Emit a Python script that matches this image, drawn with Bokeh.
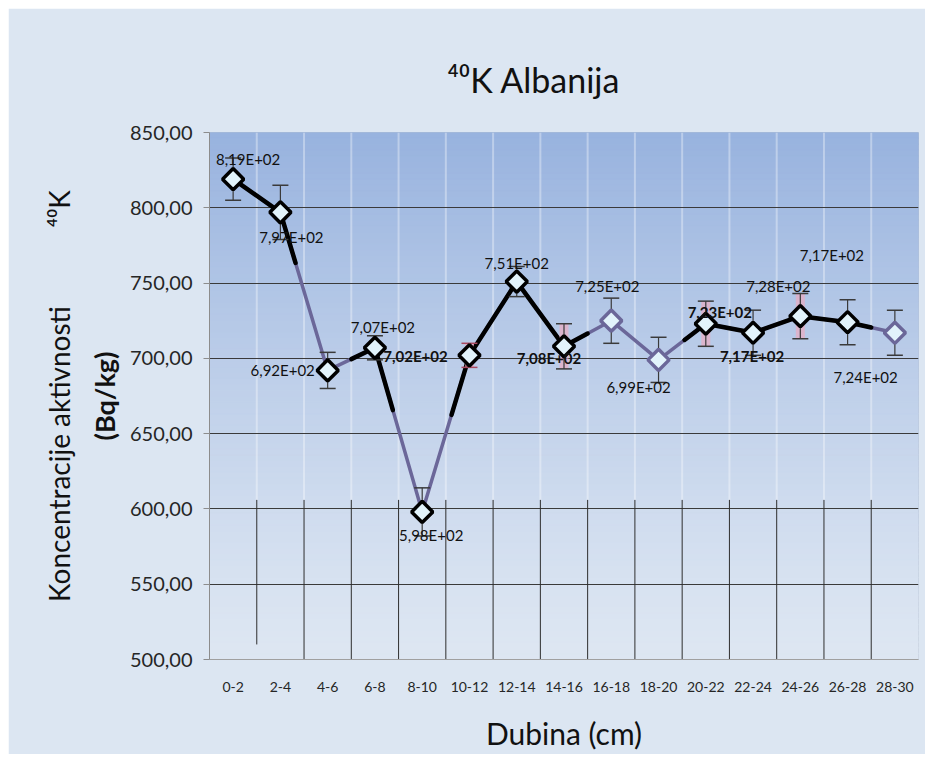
import numpy as np
from bokeh.plotting import figure
from bokeh.models import ColumnDataSource, Range1d, FixedTicker, LinearAxis
from bokeh.core.properties import value
from bokeh.embed import file_html
from bokeh.resources import INLINE

# ---------------- data ----------------
depths = ["0-2", "2-4", "4-6", "6-8", "8-10", "10-12", "12-14", "14-16",
          "16-18", "18-20", "20-22", "22-24", "24-26", "26-28", "28-30"]
activity = [819, 797, 692, 707, 598, 702, 751, 708, 725, 699, 723, 717, 728, 724, 717]
uncertainty = [14, 18, 12, 8, 16, 8, 10, 15, 15, 15, 15, 15, 15, 15, 15]
value_labels = ["8,19E+02", "7,97E+02", "6,92E+02", "7,07E+02", "5,98E+02",
                "7,02E+02", "7,51E+02", "7,08E+02", "7,25E+02", "6,99E+02",
                "7,23E+02", "7,17E+02", "7,28E+02", "7,24E+02", "7,17E+02"]
y_ticks = [500, 550, 600, 650, 700, 750, 800, 850]
title_text = "\u2074\u2070K Albanija"
y_label_outer = "Koncentracije aktivnosti " + "\u00a0" * 10 + "\u2074\u2070K"
y_label_inner = "(Bq/kg)"
x_label = "Dubina (cm)"

# ---------------- styling ----------------
label_dx = [15, 11, -45, 8, 9, -54, 0, -15, -4, -20, 14, -1, -22, 18, -63]
label_dy = [-20, 25, 0, -21, 23, 1, -19, 12, -35, 27, -12, 23, -30, 55, -78]
label_style = ["normal"] * 15
for i in (5, 7, 10, 11):
    label_style[i] = "bold"
marker_line = ["black"] * 15
for i in (8, 9, 14):
    marker_line[i] = "#6b6799"
err_color = ["#3a3a3a"] * 15
err_color[5] = "#a8485f"
glow = [5, 7, 10, 12]
# parts of each segment drawn in black (fractions along the segment)
black_parts = [(0, 1), (0, 0.32), (0.5, 1), (0, 0.38), (0.62, 1), (0, 1), (0, 1),
               (0, 0.5), None, (0.55, 1), (0, 1), (0, 1), (0, 1), (0, 0.5)]

FONT = "Lato"
PX, PY = 8, 8            # figure offset on page
W, H = 917, 746
FL, FR, FT, FB = 209, 918, 132, 659   # frame in page pixels
N = len(depths)
X0, X1 = -0.5, N - 0.5
Y0, Y1 = 500, 850

p = figure(width=W, height=H, output_backend="svg", toolbar_location=None,
           x_range=Range1d(X0, X1), y_range=Range1d(Y0, Y1),
           min_border_left=FL - PX, min_border_right=PX + W - FR,
           min_border_top=FT - PY, min_border_bottom=PY + H - FB,
           styles={"margin-left": f"{PX}px", "margin-top": f"{PY}px"})
p.border_fill_color = "#dce6f2"
p.background_fill_color = "#dce6f2"
p.outline_line_color = "#b4bfd0"

# title
p.title.text = title_text
p.title.text_font = FONT
p.title.text_font_size = "34px"
p.title.text_font_style = "normal"
p.title.text_color = "#111111"
p.title.align = "left"
p.title.offset = 447 - FL
p.title.standoff = 66

# gradient background of plot area
n = 90
ys = np.linspace(Y0, Y1, n + 1)
c_bot = np.array([0xde, 0xe7, 0xf3])
c_top = np.array([0x98, 0xb3, 0xdf])
cols = []
for k in range(n):
    t = ((k + 0.5) / n) ** 1.25
    c = (c_bot + (c_top - c_bot) * t).astype(int)
    cols.append("#%02x%02x%02x" % tuple(c))
p.quad(left=X0, right=X1, bottom=ys[:-1], top=ys[1:], fill_color=cols,
       line_color=cols, line_width=1, level="image")

# faint white verticals in upper part, dark verticals in lower part
bounds = [i + 0.5 for i in range(N - 1)]
p.segment(x0=bounds, y0=[606] * len(bounds), x1=bounds, y1=[Y1] * len(bounds),
          line_color="white", line_alpha=0.35, line_width=2, level="image")
low_start = [510] + [Y0] * (len(bounds) - 1)
p.segment(x0=bounds, y0=low_start, x1=bounds, y1=[606] * len(bounds),
          line_color="#2e2e2e", line_width=1)

# grid
p.xgrid.visible = False
p.ygrid.ticker = FixedTicker(ticks=y_ticks[1:-1])
p.ygrid.grid_line_color = "#3a3a3a"
p.ygrid.grid_line_width = 1

# axes
p.yaxis.ticker = FixedTicker(ticks=y_ticks)
p.yaxis.major_label_overrides = {t: f"{t:.2f}".replace(".", ",") for t in y_ticks}
p.yaxis.major_label_text_font = FONT
p.yaxis.major_label_text_font_size = "20px"
p.yaxis.major_label_text_color = "#262626"
p.yaxis.axis_line_color = "#8c8c8c"
p.yaxis.major_tick_line_color = "#8c8c8c"
p.yaxis.major_tick_out = 6
p.yaxis.major_tick_in = 0
p.yaxis.minor_tick_line_color = None
p.yaxis.major_label_standoff = 11
p.yaxis.axis_label = y_label_inner
p.yaxis.axis_label_text_font = FONT
p.yaxis.axis_label_text_font_size = "27px"
p.yaxis.axis_label_text_font_style = "bold"
p.yaxis.axis_label_text_color = "#111111"
p.yaxis.axis_label_standoff = 6

outer = LinearAxis(ticker=FixedTicker(ticks=[]), axis_line_color=None,
                   major_tick_line_color=None, minor_tick_line_color=None,
                   major_tick_out=0, major_label_text_font_size="0px",
                   axis_label=y_label_outer, axis_label_text_font=FONT,
                   axis_label_text_font_size="28px",
                   axis_label_text_font_style="normal",
                   axis_label_text_color="#111111", axis_label_standoff=9)
p.add_layout(outer, "left")

p.xaxis.ticker = FixedTicker(ticks=list(range(N)))
p.xaxis.major_label_overrides = {i: d for i, d in enumerate(depths)}
p.xaxis.major_label_text_font = FONT
p.xaxis.major_label_text_font_size = "14px"
p.xaxis.major_label_text_color = "#262626"
p.xaxis.axis_line_color = "#a0a0a0"
p.xaxis.major_tick_line_color = None
p.xaxis.major_tick_out = 0
p.xaxis.minor_tick_line_color = None
p.xaxis.major_label_standoff = 22
p.xaxis.axis_label = x_label
p.xaxis.axis_label_text_font = FONT
p.xaxis.axis_label_text_font_size = "30px"
p.xaxis.axis_label_text_font_style = "normal"
p.xaxis.axis_label_text_color = "#111111"
p.xaxis.axis_label_standoff = 20

# data source
xs = list(range(N))
src = ColumnDataSource(dict(
    x=xs, y=activity, lab=value_labels, dx=label_dx, dy=label_dy,
    style=label_style, mline=marker_line, ecol=err_color,
    lo=[a - e for a, e in zip(activity, uncertainty)],
    hi=[a + e for a, e in zip(activity, uncertainty)],
))

# purple full line
p.line(x="x", y="y", source=src, line_color="#6b6799", line_width=3.5)

# black overlay segments
bx0, by0, bx1, by1 = [], [], [], []
for i, part in enumerate(black_parts):
    if part is None:
        continue
    a, b = part
    ya, yb = activity[i], activity[i + 1]
    bx0.append(i + a); by0.append(ya + a * (yb - ya))
    bx1.append(i + b); by1.append(ya + b * (yb - ya))
p.segment(x0=bx0, y0=by0, x1=bx1, y1=by1, line_color="black", line_width=4.5,
          line_cap="round")

# pink glow around some error bars
gx = [xs[i] for i in glow]
glo = [activity[i] - uncertainty[i] for i in glow]
ghi = [activity[i] + uncertainty[i] for i in glow]
p.segment(x0=gx, y0=glo, x1=gx, y1=ghi, line_color="#f3a7bb", line_alpha=0.6,
          line_width=9)

# error bars
p.segment(x0="x", y0="lo", x1="x", y1="hi", source=src, line_color="ecol",
          line_width=1.2)
p.scatter(x="x", y="lo", source=src, marker="dash", size=16, line_color="ecol",
          line_width=1.5)
p.scatter(x="x", y="hi", source=src, marker="dash", size=16, line_color="ecol",
          line_width=1.5)

# markers (rotated squares)
p.scatter(x="x", y="y", source=src, marker="square", angle=np.pi / 4, size=15,
          fill_color="#e2f3fb", line_color="mline", line_width=3.5)

# value labels
p.text(x="x", y="y", text="lab", source=src, x_offset="dx", y_offset="dy",
       text_font=value(FONT), text_font_size="15px", text_font_style="style",
       text_align="center", text_baseline="middle", text_color="#111111")

open("out.html", "w").write(file_html(p, INLINE))
